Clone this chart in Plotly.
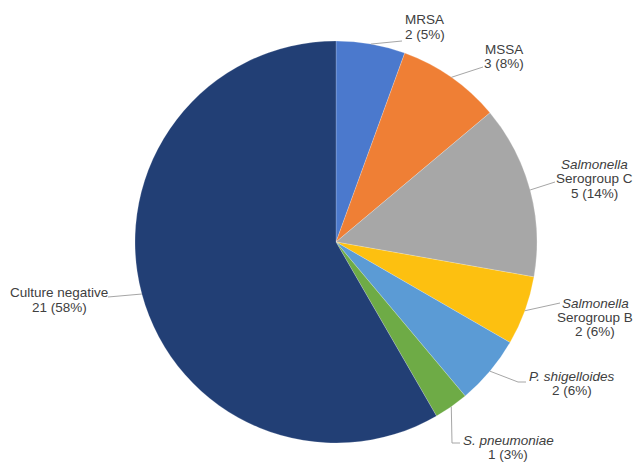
import math
import plotly.graph_objects as go

# ---- data ----
categories = ["MRSA", "MSSA", "Salmonella Serogroup C", "Salmonella Serogroup B",
              "P. shigelloides", "S. pneumoniae", "Culture negative"]
label_lines = [["MRSA"], ["MSSA"], ["<i>Salmonella</i>", "Serogroup C"],
               ["<i>Salmonella</i>", "Serogroup B"], ["<i>P. shigelloides</i>"],
               ["<i>S. pneumoniae</i>"], ["Culture negative"]]
counts = [2, 3, 5, 2, 2, 1, 21]
percent_labels = ["5%", "8%", "14%", "6%", "6%", "3%", "58%"]
colors = ["#4b79cd", "#ef7f35", "#a7a7a7", "#fdc010", "#5b9bd5", "#6eab46", "#223f75"]

W, H = 635, 463
CX, CY, R = 336, 242, 201
PITCH = 14.3
FONT = dict(family="Liberation Sans, Arial, sans-serif", size=13.5, color="#404040")

# label layout in pixels: text x, text block centre y, x anchor, elbow point, line end
label_layout = [
    dict(tx=403, ty=27, xa="left", elbow=None, end=(402, 41)),
    dict(tx=504, ty=56.5, xa="center", elbow=None, end=(483, 67)),
    dict(tx=594, ty=179, xa="center", elbow=None, end=(555, 182)),
    dict(tx=595, ty=317.5, xa="center", elbow=None, end=(560, 303)),
    dict(tx=572, ty=383.5, xa="center", elbow=(518, 382), end=(526, 382)),
    dict(tx=508, ty=447.5, xa="center", elbow=(452, 443), end=(460, 443)),
    dict(tx=59, ty=300, xa="center", elbow=None, end=(108, 297)),
]


def px(x):
    return x / W


def py(y):
    return 1 - y / H


fig = go.Figure(go.Pie(
    labels=categories,
    values=counts,
    sort=False,
    direction="clockwise",
    rotation=0,
    marker=dict(colors=colors, line=dict(color="rgba(255,255,255,0.4)", width=0.5)),
    textinfo="none",
    hoverinfo="label+value",
    domain=dict(x=[px(CX - R), px(CX + R)], y=[py(CY + R), py(CY - R)]),
    showlegend=False,
))

total = sum(counts)
cum = 0
shapes = []
annotations = []
for lines, c, pct, lay in zip(label_lines, counts, percent_labels, label_layout):
    mid = (cum + c / 2) / total * 2 * math.pi
    cum += c
    ex = CX + R * math.sin(mid)
    ey = CY - R * math.cos(mid)
    pts = [(ex, ey)]
    if lay["elbow"]:
        pts.append(lay["elbow"])
    pts.append(lay["end"])
    path = "M " + " L ".join(f"{px(x)},{py(y)}" for x, y in pts)
    shapes.append(dict(type="path", xref="paper", yref="paper", path=path,
                       line=dict(color="#a6a6a6", width=1)))
    all_lines = lines + [f"{c} ({pct})"]
    n = len(all_lines)
    for i, t in enumerate(all_lines):
        yy = lay["ty"] + (i - (n - 1) / 2) * PITCH
        annotations.append(dict(
            x=px(lay["tx"]), y=py(yy), xref="paper", yref="paper",
            text=t, showarrow=False,
            xanchor=lay["xa"], yanchor="middle", align="center",
            font=FONT,
        ))

fig.update_layout(
    width=W, height=H,
    margin=dict(l=0, r=0, t=0, b=0),
    paper_bgcolor="white",
    plot_bgcolor="white",
    shapes=shapes,
    annotations=annotations,
)

fig.write_html("out.html", config={"displayModeBar": False},
               post_script="document.body.style.margin='0';")
